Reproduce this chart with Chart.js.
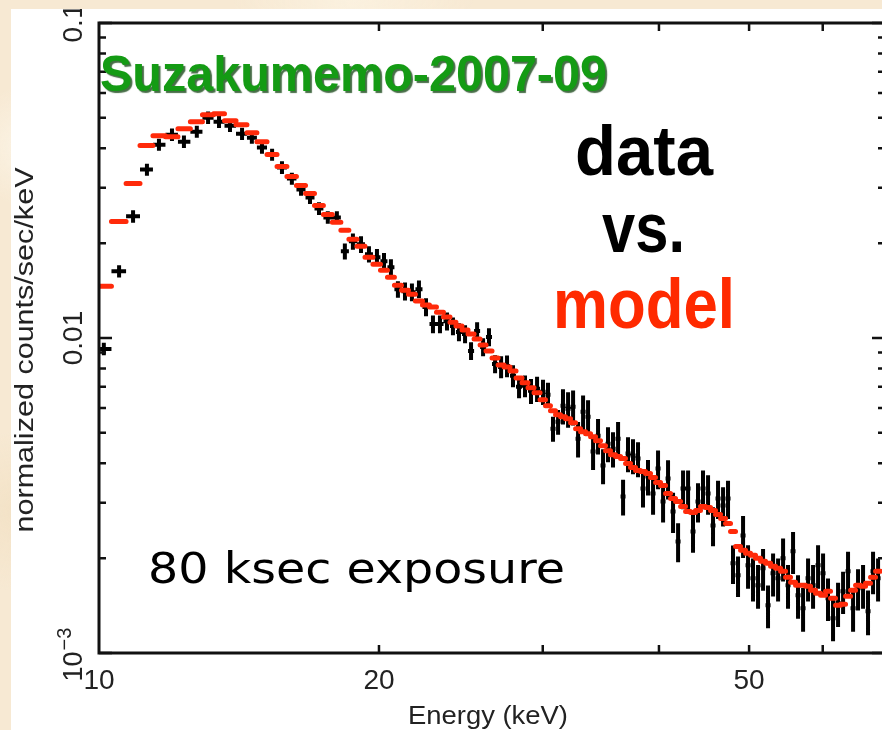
<!DOCTYPE html>
<html>
<head>
<meta charset="utf-8">
<script src="https://cdn.jsdelivr.net/npm/chart.js@4/dist/chart.umd.min.js"></script>
<style>
  html, body { margin: 0; padding: 0; width: 882px; height: 730px; overflow: hidden; }
  body {
    background:
      radial-gradient(circle at 3% 20%, #fbf3e4 0, rgba(251,243,228,0) 60px),
      radial-gradient(circle at 2% 70%, #f3e2c6 0, rgba(243,226,198,0) 80px),
      radial-gradient(circle at 40% 0%, #fbf1df 0, rgba(251,241,223,0) 120px),
      #f7e9d3;
  }
  .card { position: absolute; left: 11px; top: 9px; width: 880px; height: 721px; background: #fff; overflow: hidden; }
</style>
</head>
<body>
<div class="card"><canvas id="chart" width="880" height="721"></canvas></div>
<script>
// Energy bin centres (keV)
const energy = [
  10.12, 10.51, 10.88, 11.26, 11.60, 11.98, 12.34, 12.74, 13.10, 13.46,
  13.83, 14.25, 14.60, 14.97, 15.35, 15.73, 16.12, 16.49, 16.86, 17.24,
  17.62, 18.02, 18.38, 18.75, 19.13, 19.51, 19.90, 20.25, 20.60, 20.96,
  21.33, 21.70, 22.08, 22.47, 22.86, 23.26, 23.67, 24.02, 24.38, 24.75,
  25.12, 25.50, 25.88, 26.26, 26.66, 27.06, 27.46, 27.87, 28.29, 28.71,
  29.14, 29.58, 30.02, 30.39, 30.77, 31.16, 31.54, 31.94, 32.34, 32.74,
  33.15, 33.56, 33.98, 34.40, 34.83, 35.26, 35.70, 36.15, 36.60, 37.05,
  37.51, 37.98, 38.45, 38.93, 39.42, 39.91, 40.41, 40.91, 41.42, 41.94,
  42.46, 42.99, 43.52, 44.06, 44.61, 45.17, 45.73, 46.30, 46.88, 47.46,
  48.05, 48.65, 49.26, 49.87, 50.49, 51.12, 51.76, 52.40, 53.06, 53.72,
  54.39, 55.06, 55.75, 56.44, 57.15, 57.86, 58.58, 59.31, 60.05, 60.79,
  61.55, 62.32, 63.10, 63.88, 64.68, 65.48, 66.30, 67.12, 67.96, 68.81
];

// Folded model (counts/sec/keV)
const modelFlux = [
  0.01461, 0.02345, 0.03094, 0.04081, 0.04389, 0.04357, 0.04619, 0.04861, 0.05115, 0.05153,
  0.04896, 0.04755, 0.04486, 0.04201, 0.03821, 0.03503, 0.03256, 0.03049, 0.02876, 0.02636,
  0.02468, 0.02329, 0.02197, 0.02057, 0.01955, 0.01805, 0.01714, 0.01641, 0.01559, 0.01471,
  0.01419, 0.01378, 0.01310, 0.01272, 0.01254, 0.01208, 0.01165, 0.01123, 0.01091, 0.01060,
  0.01030, 0.009928, 0.009503, 0.009097, 0.008645, 0.008215, 0.008096, 0.007862, 0.007471, 0.007205,
  0.006947, 0.006699, 0.006365, 0.006093, 0.005876, 0.005707, 0.005625, 0.005542, 0.005383, 0.005153,
  0.005042, 0.004969, 0.004861, 0.004722, 0.004553, 0.004389, 0.004263, 0.004202, 0.004141, 0.003993,
  0.003878, 0.003794, 0.003767, 0.003712, 0.003606, 0.003476, 0.003401, 0.003209, 0.003094, 0.003027,
  0.002919, 0.002814, 0.002793, 0.002834, 0.002919, 0.002898, 0.002834, 0.002753, 0.002674, 0.002578,
  0.002432, 0.002180, 0.002118, 0.002072, 0.002042, 0.001998, 0.001955, 0.001926, 0.001885, 0.001857,
  0.001817, 0.001739, 0.001677, 0.001641, 0.001641, 0.001629, 0.001582, 0.001548, 0.001525, 0.001570,
  0.001493, 0.001419, 0.001429, 0.001514, 0.001582, 0.001641, 0.001629, 0.001665, 0.001739, 0.001817
];

// Observed spectrum (counts/sec/keV) and 1-sigma errors
const dataFlux = [
  0.009231, 0.01629, 0.02433, 0.03426, 0.04110, 0.04421, 0.04201, 0.04519, 0.05005, 0.04861,
  0.04721, 0.04453, 0.04326, 0.04022, 0.03821, 0.03477, 0.03208, 0.02961, 0.02793, 0.02579,
  0.02415, 0.02415, 0.01885, 0.02027, 0.01983, 0.01845, 0.01805, 0.01752, 0.01677, 0.01429,
  0.01408, 0.01398, 0.01429, 0.01254, 0.01107, 0.01107, 0.01131, 0.01091, 0.01045, 0.01030,
  0.009097, 0.01053, 0.009366, 0.01008, 0.008275, 0.008096, 0.008156, 0.007582, 0.006998, 0.007049,
  0.006797, 0.006897, 0.006748, 0.006602, 0.005153, 0.005422, 0.006093, 0.005962, 0.006049, 0.004791,
  0.005833, 0.005625, 0.004358, 0.004897, 0.003935, 0.004620, 0.004454, 0.004791, 0.003140, 0.004295,
  0.004233, 0.004141, 0.003328, 0.003632, 0.003209, 0.003850, 0.003027, 0.003579, 0.002814, 0.002261,
  0.003328, 0.003328, 0.002432, 0.003027, 0.003328, 0.003209, 0.002541, 0.003094, 0.002940, 0.003094,
  0.001926, 0.001765, 0.002362, 0.001899, 0.001727, 0.001641, 0.001857, 0.001419, 0.001791, 0.001727,
  0.001998, 0.001641, 0.002103, 0.001525, 0.001388, 0.001727, 0.001641, 0.001899, 0.001791, 0.001493,
  0.001290, 0.001440, 0.001570, 0.001817, 0.001388, 0.001605, 0.001641, 0.001358, 0.001817, 0.001727
];

const dataErr = [
  0.00042, 0.00073, 0.0011, 0.0015, 0.0018, 0.0020, 0.0019, 0.0020, 0.0023, 0.0022,
  0.0021, 0.0020, 0.0019, 0.0018, 0.0017, 0.0016, 0.0014, 0.0013, 0.0013, 0.0012,
  0.0011, 0.0011, 0.0011, 0.0012, 0.0012, 0.0011, 0.0011, 0.0011, 0.0010, 0.00086,
  0.00092, 0.00091, 0.00093, 0.00082, 0.00072, 0.00072, 0.00074, 0.00071, 0.00068, 0.00067,
  0.00059, 0.00068, 0.00061, 0.00066, 0.00054, 0.00065, 0.00065, 0.00061, 0.00056, 0.00056,
  0.00062, 0.00063, 0.00062, 0.00061, 0.00047, 0.00049, 0.00078, 0.00077, 0.00077, 0.00062,
  0.00074, 0.00072, 0.00055, 0.00063, 0.00050, 0.00059, 0.00057, 0.00062, 0.00041, 0.00055,
  0.00054, 0.00053, 0.00043, 0.00047, 0.00046, 0.00054, 0.00043, 0.00051, 0.00041, 0.00032,
  0.00047, 0.00047, 0.00035, 0.00043, 0.00047, 0.00046, 0.00036, 0.00043, 0.00042, 0.00043,
  0.00027, 0.00026, 0.00036, 0.00030, 0.00027, 0.00026, 0.00028, 0.00022, 0.00028, 0.00027,
  0.00031, 0.00026, 0.00032, 0.00024, 0.00022, 0.00027, 0.00026, 0.00030, 0.00028, 0.00023,
  0.00020, 0.00023, 0.00024, 0.00028, 0.00022, 0.00024, 0.00026, 0.00022, 0.00028, 0.00027
];

// Axes
const xRange = [10, 70];
const yRange = [0.001, 0.1];
const xTickLabels = [10, 20, 50];
const xMinorTicks = [20, 30, 40, 50, 60, 70];
const yTickValues = [0.001, 0.01, 0.1];
const yTickLabels = ['10^\u22123', '0.01', '0.1'];

const BASE_FONT = '"Liberation Sans", Arial, sans-serif';

// Bin edges sit halfway (in log) between neighbouring centres
function binEdges(c) {
  const e = [];
  for (let i = 1; i < c.length; i++) e.push(Math.sqrt(c[i - 1] * c[i]));
  e.unshift(c[0] * c[0] / e[0]);
  e.push(c[c.length - 1] * c[c.length - 1] / e[e.length - 1]);
  return e;
}
const edges = binEdges(energy);

const dataPoints = energy.map((e, i) => ({
  x: e, y: dataFlux[i], xMin: edges[i], xMax: edges[i + 1],
  yMin: dataFlux[i] - dataErr[i], yMax: dataFlux[i] + dataErr[i]
}));
const modelPoints = energy.map((e, i) => ({
  x: e, y: modelFlux[i], xMin: edges[i], xMax: edges[i + 1]
}));

// Draws each bin as a horizontal bar across its width, plus a vertical error bar if present
const crossBars = {
  id: 'crossBars',
  afterDatasetsDraw(chart) {
    const { ctx, chartArea: a, scales: { x, y } } = chart;
    ctx.save();
    ctx.beginPath();
    ctx.rect(a.left, a.top, a.right - a.left, a.bottom - a.top);
    ctx.clip();
    ctx.filter = 'blur(0.6px)';
    chart.data.datasets.forEach(ds => {
      ctx.strokeStyle = ds.borderColor;
      ctx.lineWidth = ds.borderWidth;
      ctx.lineCap = ds.capStyle || 'butt';
      ctx.beginPath();
      ds.data.forEach(p => {
        const py = y.getPixelForValue(p.y);
        ctx.moveTo(x.getPixelForValue(p.xMin), py);
        ctx.lineTo(x.getPixelForValue(p.xMax), py);
        if (p.yMin !== undefined) {
          const px = x.getPixelForValue(p.x);
          ctx.moveTo(px, y.getPixelForValue(p.yMin));
          ctx.lineTo(px, y.getPixelForValue(p.yMax));
        }
      });
      ctx.stroke();
    });
    ctx.restore();
  }
};

function fitText(ctx, text, x, y, width, font, color) {
  ctx.font = font;
  const w = ctx.measureText(text).width;
  ctx.save();
  ctx.translate(x, y);
  ctx.scale(width / w, 1);
  ctx.fillStyle = color;
  ctx.fillText(text, 0, 0);
  ctx.restore();
}

// Boxed frame with inward ticks, PGPLOT style
const frame = {
  id: 'frame',
  afterDraw(chart) {
    const { ctx, chartArea: a, scales: { x, y } } = chart;
    ctx.save();
    ctx.strokeStyle = '#111';
    ctx.lineWidth = 3;
    ctx.strokeRect(a.left, a.top, a.right - a.left, a.bottom - a.top);

    ctx.lineWidth = 2.5;
    ctx.beginPath();
    xMinorTicks.forEach(v => {
      const px = x.getPixelForValue(v);
      ctx.moveTo(px, a.bottom); ctx.lineTo(px, a.bottom - 8);
      ctx.moveTo(px, a.top); ctx.lineTo(px, a.top + 8);
    });
    yTickValues.forEach((v, k) => {
      for (let m = 1; m <= 9; m++) {
        const val = v * m;
        if (val > yRange[1] * 1.0001 || k === yTickValues.length - 1 && m > 1) continue;
        const py = y.getPixelForValue(val);
        const len = m === 1 ? 13 : 7;
        ctx.moveTo(a.left, py); ctx.lineTo(a.left + len, py);
        ctx.moveTo(a.right, py); ctx.lineTo(a.right - len, py);
      }
    });
    ctx.stroke();

    // x tick labels
    ctx.fillStyle = '#222';
    ctx.font = '28px ' + BASE_FONT;
    ctx.textAlign = 'center';
    ctx.textBaseline = 'alphabetic';
    xTickLabels.forEach(v => ctx.fillText(String(v), x.getPixelForValue(v), a.bottom + 36));

    // y tick labels, rotated
    yTickValues.forEach((v, i) => {
      const py = y.getPixelForValue(v);
      const label = yTickLabels[i];
      ctx.save();
      ctx.translate(a.left - 17, py);
      ctx.rotate(-Math.PI / 2);
      if (label.includes('^')) {
        const [base, sup] = label.split('^');
        ctx.font = '27px ' + BASE_FONT;
        const wb = ctx.measureText(base).width;
        ctx.font = '20px ' + BASE_FONT;
        const ws = ctx.measureText(sup).width;
        const start = -(wb + ws) / 2 - 2;
        ctx.textAlign = 'left';
        ctx.font = '27px ' + BASE_FONT;
        ctx.fillText(base, start, 0);
        ctx.font = '20px ' + BASE_FONT;
        ctx.fillText(sup, start + wb + 1, -11);
      } else {
        ctx.font = '28px ' + BASE_FONT;
        ctx.textAlign = 'center';
        ctx.fillText(label, 0, 0);
      }
      ctx.restore();
    });

    // axis titles
    ctx.textAlign = 'center';
    ctx.save();
    ctx.font = '26px ' + BASE_FONT;
    let w = ctx.measureText('Energy (keV)').width;
    ctx.translate((a.left + a.right) / 2 - 4, a.bottom + 71);
    ctx.scale(160 / w, 1);
    ctx.fillStyle = '#222';
    ctx.fillText('Energy (keV)', 0, 0);
    ctx.restore();

    ctx.save();
    ctx.font = '25px ' + BASE_FONT;
    w = ctx.measureText('normalized counts/sec/keV').width;
    ctx.translate(22, 341);
    ctx.rotate(-Math.PI / 2);
    ctx.scale(365 / w, 1);
    ctx.fillStyle = '#222';
    ctx.fillText('normalized counts/sec/keV', 0, 0);
    ctx.restore();

    ctx.textAlign = 'left';
    notes.forEach(n => {
      ctx.save();
      if (n.shadow) {
        ctx.shadowColor = 'rgba(10, 60, 10, 0.75)';
        ctx.shadowOffsetX = 2;
        ctx.shadowOffsetY = 2;
        ctx.shadowBlur = 1;
      }
      fitText(ctx, n.text, n.x, n.y, n.width, n.font, n.color);
      ctx.restore();
    });
    ctx.restore();
  }
};

// Free text placed on the plot
const notes = [
  { text: 'Suzakumemo-2007-09', x: 89, y: 82, width: 507, font: 'bold 50px ' + BASE_FONT, color: '#149b14', shadow: true },
  { text: 'data', x: 564, y: 166, width: 138, font: 'bold 70px ' + BASE_FONT, color: '#000' },
  { text: 'vs.', x: 591, y: 243, width: 83, font: 'bold 70px ' + BASE_FONT, color: '#000' },
  { text: 'model', x: 542, y: 319, width: 182, font: 'bold 70px ' + BASE_FONT, color: '#ff2a00' },
  { text: '80 ksec exposure', x: 137, y: 574, width: 417, font: '42px "DejaVu Sans", sans-serif', color: '#000' }
];

new Chart(document.getElementById('chart'), {
  type: 'scatter',
  data: {
    datasets: [
      { label: 'data', data: dataPoints, borderColor: '#000', borderWidth: 4, pointRadius: 0, showLine: false },
      { label: 'model', data: modelPoints, borderColor: '#ff2a0a', borderWidth: 5, capStyle: 'round', pointRadius: 0, showLine: false }
    ]
  },
  options: {
    responsive: false,
    animation: false,
    events: [],
    layout: { padding: { left: 88, top: 14, right: 6, bottom: 77 } },
    plugins: { legend: { display: false }, tooltip: { enabled: false } },
    scales: {
      x: { type: 'logarithmic', display: false, min: xRange[0], max: xRange[1] },
      y: { type: 'logarithmic', display: false, min: yRange[0], max: yRange[1] }
    }
  },
  plugins: [crossBars, frame]
});
</script>
</body>
</html>
